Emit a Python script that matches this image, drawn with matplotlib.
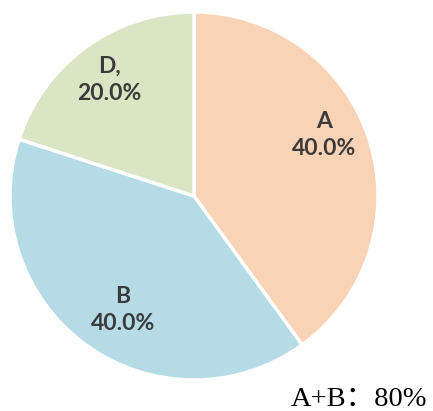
import matplotlib.pyplot as plt
import numpy as np

# pie data
labels = ['A', 'B', 'D,']
shares = [40.0, 40.0, 20.0]
colors = ['#F9D3B5', '#B5DBE7', '#D9E5C3']
note = 'A+B：80%'

fig = plt.figure(figsize=(4.33, 4.11), dpi=100)
# pie centre ~ (194,196) px, radius ~184 px
ax = fig.add_axes([10 / 433, 31 / 411, 368 / 433, 368 / 411])

wedges, _ = ax.pie(shares, colors=colors, startangle=90, counterclock=False,
                   wedgeprops=dict(edgecolor='white', linewidth=2.5))
ax.set_xlim(-1, 1)
ax.set_ylim(-1, 1)
ax.set_aspect('equal')

# label placement (distance from centre, angle nudge) - Excel style positions
place = [(0.78, 7), (0.73, 4), (0.78, 0)]
for w, lab, val, (dist, nudge) in zip(wedges, labels, shares, place):
    ang = np.deg2rad((w.theta1 + w.theta2) / 2 + nudge)
    ax.text(dist * np.cos(ang), dist * np.sin(ang), f'{lab}\n{val:.1f}%',
            ha='center', va='center', fontsize=16.5, fontweight='bold',
            color='#3b3b3b', family='Lato', linespacing=1.35)

# full-width colon comes from the CJK font (SC form sits low like the reference)
fig.text(291 / 433, 5 / 411, note, ha='left', va='baseline', fontsize=20.5,
         family=['Liberation Serif', 'Noto Sans CJK SC'], color='black')

fig.savefig('out.png', dpi=100)
